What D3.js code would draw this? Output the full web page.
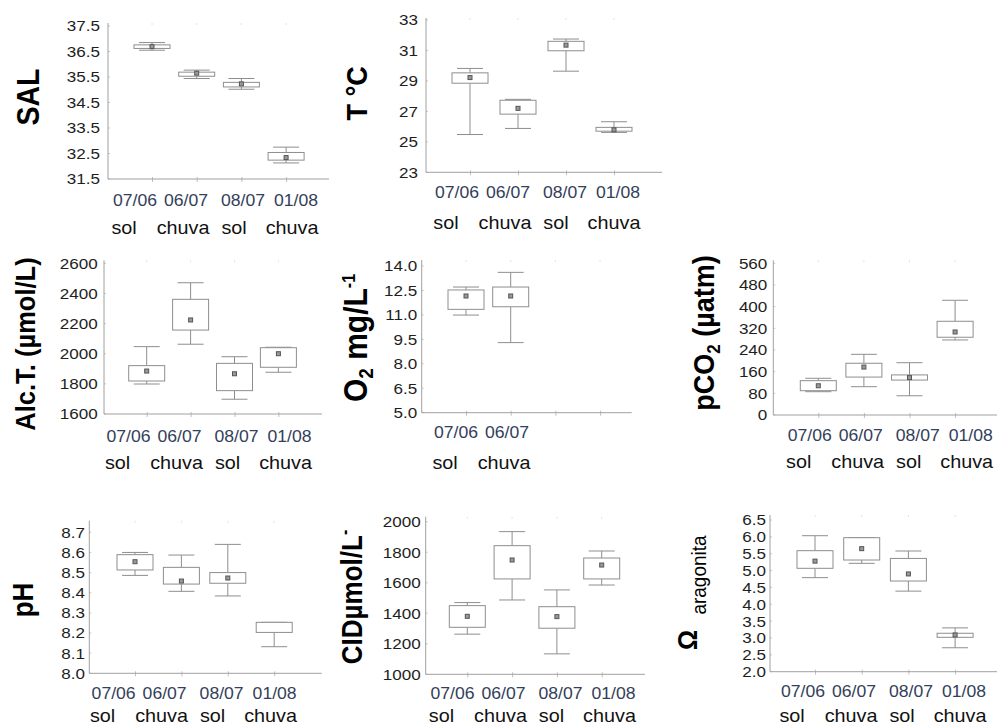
<!DOCTYPE html>
<html><head><meta charset="utf-8">
<script src="https://cdn.jsdelivr.net/npm/d3@7"></script>
<style>
html,body{margin:0;padding:0;background:#fff;}
svg{display:block;font-family:Arial,"Liberation Sans",sans-serif;}
</style></head><body>
<svg id="chart" width="998" height="725"></svg>
<script>
// Sampling dates and weather condition on each date
const dates = ["07/06", "06/07", "08/07", "01/08"];
const seasons = ["sol", "chuva", "sol", "chuva"];

// Box statistics per date: [min, lower box edge, upper box edge, max, mean]
const sal   = [[36.55, 36.62, 36.76, 36.85, 36.69], [35.44, 35.53, 35.69, 35.77, 35.65], [35.02, 35.11, 35.29, 35.44, 35.23], [32.13, 32.24, 32.54, 32.75, 32.34]];
const temp  = [[25.48, 28.85, 29.53, 29.82, 29.22], [25.88, 26.82, 27.73, 27.79, 27.2], [29.64, 30.98, 31.6, 31.75, 31.35], [25.62, 25.7, 25.95, 26.32, 25.79]];
const alc   = [[1799, 1819, 1921, 2047, 1885], [2063, 2157, 2361, 2471, 2224], [1698, 1755, 1936, 1980, 1867], [1877, 1910, 2040, 2043, 2000]];
const o2    = [[10.99, 11.34, 12.53, 12.71, 12.16], [9.3, 11.5, 12.71, 13.61, 12.16]];
const pco2  = [[86, 89.7, 126.7, 135.5, 108], [104.5, 140, 191, 224, 177], [71, 129, 148, 193, 138], [277, 287, 346, 423.5, 306.5]];
const ph    = [[8.486, 8.513, 8.589, 8.60, 8.554], [8.407, 8.443, 8.526, 8.587, 8.458], [8.384, 8.447, 8.50, 8.64, 8.473], [8.132, 8.203, 8.253, 8.253, null]];
const cid   = [[1263, 1308, 1450, 1470, 1380], [1487, 1625, 1843, 1935, 1749], [1134, 1302, 1443, 1553, 1378], [1585, 1625, 1762, 1808, 1716]];
const omega = [[4.79, 5.067, 5.59, 6.034, 5.28], [5.215, 5.313, 5.975, 5.975, 5.65], [4.39, 4.69, 5.36, 5.58, 4.90], [2.71, 3.02, 3.14, 3.30, 3.09]];

// Y tick values
const salTicks   = [31.5, 32.5, 33.5, 34.5, 35.5, 36.5, 37.5];
const tempTicks  = [23, 25, 27, 29, 31, 33];
const alcTicks   = [1600, 1800, 2000, 2200, 2400, 2600];
const o2Ticks    = [5.0, 6.5, 8.0, 9.5, 11.0, 12.5, 14.0];
const pco2Ticks  = [0, 80, 160, 240, 320, 400, 480, 560];
const phTicks    = [8.0, 8.1, 8.2, 8.3, 8.4, 8.5, 8.6, 8.7];
const cidTicks   = [1000, 1200, 1400, 1600, 1800, 2000];
const omegaTicks = [2.0, 2.5, 3.0, 3.5, 4.0, 4.5, 5.0, 5.5, 6.0, 6.5];

const svg = d3.select("#chart");
const SX = 1.1;                 // horizontal widening of all lettering
const AXIS = "#a0a0a0", BOX = "#8e8e8e";
const f1 = d3.format(".1f"), f0 = d3.format("d");

// word offsets inside the two label rows (relative to the row centre)
const dateOff = [-81, -30, 27, 80];
const subOff = [-92, -33, 18, 76];

const panels = [
  {stats: sal,   ticks: salTicks,   fmt: f1, x0: 108,   off: 44,   step: 44.7, axisEnd: 329,   yBot: 179,   yTop: 26,    ext: 3,    gap: 8,   shift: -3,  dateBase: 26.5, subBase: 54.5, nLab: 4},
  {stats: temp,  ticks: tempTicks,  fmt: f0, x0: 426,   off: 44,   step: 48,   axisEnd: 662,   yBot: 172.3, yTop: 20,    ext: 2,    gap: 8,   shift: -4,  dateBase: 26,   subBase: 57,   nLab: 4},
  {stats: alc,   ticks: alcTicks,   fmt: f0, x0: 104,   off: 42.7, step: 43.9, axisEnd: 322,   yBot: 414,   yTop: 263.3, ext: 3,    gap: 6.3, shift: -3,  dateBase: 28,   subBase: 55,   nLab: 4},
  {stats: o2,    ticks: o2Ticks,    fmt: f1, x0: 421.7, off: 44.3, step: 44.7, axisEnd: 631.7, yBot: 412.7, yTop: 266,   ext: 6,    gap: 4.5, shift: 4,   dateBase: 25.5, subBase: 56.5, nLab: 2},
  {stats: pco2,  ticks: pco2Ticks,  fmt: f0, x0: 773.3, off: 45,   step: 45.6, axisEnd: 997,   yBot: 415,   yTop: 263.3, ext: 3,    gap: 6,   shift: 4,   dateBase: 25.5, subBase: 53,   nLab: 4},
  {stats: ph,    ticks: phTicks,    fmt: f1, x0: 89.3,  off: 45.7, step: 46.4, axisEnd: 321.7, yBot: 673.3, yTop: 532.3, ext: 11.6, gap: 4.3, shift: -10, dateBase: 26,   subBase: 48.5, nLab: 4},
  {stats: cid,   ticks: cidTicks,   fmt: f0, x0: 425.7, off: 41.6, step: 44.8, axisEnd: 645,   yBot: 674.3, yTop: 521.7, ext: 5,    gap: 5,   shift: -1,  dateBase: 25,   subBase: 47.5, nLab: 4},
  {stats: omega, ticks: omegaTicks, fmt: f1, x0: 770,   off: 45,   step: 46.7, axisEnd: 997,   yBot: 671.7, yTop: 520,   ext: 5,    gap: 4,   shift: -1,  dateBase: 25.5, subBase: 50,   nLab: 4}
];

const BW = 36, CAP = 26;

panels.forEach(p => {
  const g = svg.append("g");
  const y = d3.scaleLinear().domain([p.ticks[0], p.ticks[p.ticks.length - 1]]).range([p.yBot, p.yTop]);
  const x = d3.scalePoint().domain(dates).range([p.x0 + p.off, p.x0 + p.off + 3 * p.step]);

  // y axis labels
  const ya = g.append("g").attr("transform", `translate(${p.x0},0)`)
    .call(d3.axisLeft(y).tickValues(p.ticks).tickFormat(p.fmt).tickSize(0).tickPadding(0));
  ya.select(".domain").remove();
  ya.selectAll("text")
    .attr("x", -p.gap / SX)
    .attr("transform", `scale(${SX},1)`)
    .attr("font-size", 15.5)
    .attr("font-family", "Arial, 'Liberation Sans', sans-serif")
    .attr("fill", "#1e1e1e");

  // faint minor ticks along the y axis
  g.append("g").selectAll("line").data(p.ticks).join("line")
    .attr("x1", p.x0).attr("x2", p.x0 + 2)
    .attr("y1", d => y(d)).attr("y2", d => y(d))
    .attr("stroke", "#c8c8c8").attr("stroke-width", 1);

  // x axis tick marks at each sampling date
  const xa = g.append("g").attr("transform", `translate(0,${p.yBot})`)
    .call(d3.axisBottom(x).tickSize(3).tickFormat(""));
  xa.select(".domain").remove();
  xa.selectAll("line").attr("stroke", "#c0c0c0").attr("y1", -2);
  // faint marks at the top of the plot
  g.append("g").selectAll("line").data(dates).join("line")
    .attr("x1", d => x(d)).attr("x2", d => x(d))
    .attr("y1", p.yTop - p.ext).attr("y2", p.yTop - p.ext + 2)
    .attr("stroke", "#e2e2e2");

  // axis lines
  g.append("line").attr("x1", p.x0).attr("x2", p.x0)
    .attr("y1", p.yTop - p.ext).attr("y2", p.yBot)
    .attr("stroke", AXIS).attr("stroke-width", 1);
  g.append("line").attr("x1", p.x0).attr("x2", p.axisEnd)
    .attr("y1", p.yBot).attr("y2", p.yBot)
    .attr("stroke", AXIS).attr("stroke-width", 1);

  // box plots
  p.stats.forEach((s, i) => {
    const [mn, q1, q3, mx, mean] = s;
    const cx = x(dates[i]);
    const bg = g.append("g").attr("stroke", BOX).attr("stroke-width", 1).attr("fill", "none");
    bg.append("line").attr("x1", cx).attr("x2", cx).attr("y1", y(mx)).attr("y2", y(q3));
    bg.append("line").attr("x1", cx).attr("x2", cx).attr("y1", y(q1)).attr("y2", y(mn));
    bg.append("line").attr("x1", cx - CAP / 2).attr("x2", cx + CAP / 2).attr("y1", y(mx)).attr("y2", y(mx));
    bg.append("line").attr("x1", cx - CAP / 2).attr("x2", cx + CAP / 2).attr("y1", y(mn)).attr("y2", y(mn));
    bg.append("rect").attr("x", cx - BW / 2).attr("width", BW)
      .attr("y", y(q3)).attr("height", y(q1) - y(q3)).attr("fill", "#fff");
    if (mean != null) {
      g.append("rect").attr("x", cx - 2).attr("y", y(mean) - 2).attr("width", 4).attr("height", 4)
        .attr("fill", "#9a9a9a").attr("stroke", "#555").attr("stroke-width", 1);
    }
  });

  // date and weather labels
  const mid = (x(dates[0]) + x(dates[3])) / 2 + p.shift;
  for (let i = 0; i < p.nLab; i++) {
    g.append("text")
      .attr("transform", `translate(${mid + dateOff[i]},${p.yBot + p.dateBase}) scale(${SX},1)`)
      .attr("text-anchor", "middle").attr("font-size", 16).attr("fill", "#33405a")
      .text(dates[i]);
    g.append("text")
      .attr("transform", `translate(${mid + subOff[i]},${p.yBot + p.subBase}) scale(${SX},1)`)
      .attr("text-anchor", "middle").attr("font-size", 18).attr("fill", "#111")
      .text(seasons[i]);
  }
});

// vertical axis titles
function vTitle(x, yc, parts) {
  const t = svg.append("text")
    .attr("transform", `translate(${x},${yc}) scale(${SX},1) rotate(-90)`)
    .attr("text-anchor", "middle").attr("fill", "#000");
  parts.forEach(pt => t.append("tspan")
    .attr("font-size", pt.size).attr("dy", pt.dy || 0)
    .attr("font-weight", pt.weight || "bold").text(pt.text));
}
vTitle(39.3, 97, [{text: "SAL", size: 28.5}]);
vTitle(366.7, 93.3, [{text: "T °C", size: 27}]);
vTitle(35, 344, [{text: "Alc.T. (µmol/L)", size: 25.5}]);
vTitle(366.7, 338, [{text: "O", size: 30}, {text: "2", size: 19, dy: 6}, {text: " mg/L", size: 30, dy: -6}, {text: "-1", size: 16, dy: -11}]);
vTitle(714, 333, [{text: "pCO", size: 27}, {text: "2", size: 17, dy: 5}, {text: " (µatm)", size: 27, dy: -5}]);
vTitle(33.3, 600, [{text: "pH", size: 26}]);
vTitle(361.7, 597, [{text: "CIDµmol/L", size: 26}, {text: "-", size: 16, dy: -10}]);
vTitle(697, 640, [{text: "Ω", size: 25}]);
vTitle(706, 575, [{text: "aragonita", size: 19, weight: "normal"}]);
</script>
</body></html>
